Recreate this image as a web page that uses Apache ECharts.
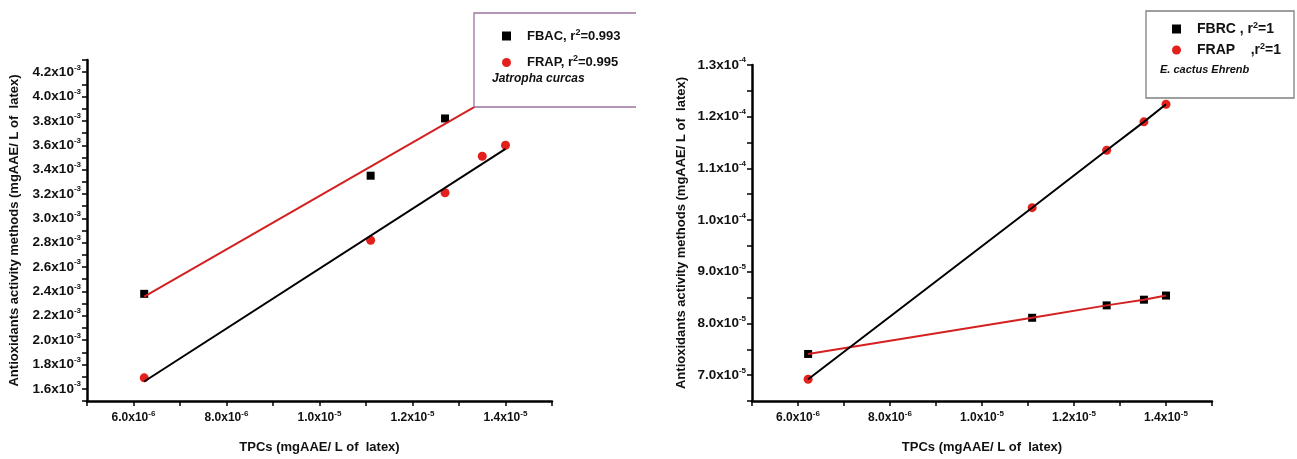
<!DOCTYPE html>
<html>
<head>
<meta charset="utf-8">
<script src="https://cdn.jsdelivr.net/npm/echarts@6/dist/echarts.min.js"></script>
<style>
    html, body { margin: 0; padding: 0; background: #fff; }
    #chart { width: 1297px; height: 459px; }
</style>
</head>
<body>
<div id="chart"></div>
<script>
    // left panel - Jatropha curcas
    const tpcJatropha = [6.23e-6, 1.11e-5, 1.27e-5, 1.35e-5, 1.40e-5];
    const fbacJatropha = [2.38e-3, 3.35e-3, 3.82e-3];
    const frapJatropha = [1.69e-3, 2.82e-3, 3.21e-3, 3.51e-3, 3.60e-3];
    const fitXJatropha = [6.23e-6, 1.40e-5];
    const fbacFitJatropha = [2.357e-3, 4.06e-3];
    const frapFitJatropha = [1.66e-3, 3.57e-3];

    // right panel - E. cactus Ehrenb
    const tpcCactus = [6.22e-6, 1.109e-5, 1.271e-5, 1.352e-5, 1.40e-5];
    const fbrcCactus = [7.41e-5, 8.11e-5, 8.35e-5, 8.46e-5, 8.54e-5];
    const frapCactus = [6.92e-5, 1.024e-4, 1.135e-4, 1.190e-4, 1.224e-4];

    const FONT = '"Liberation Sans", Arial, sans-serif';
    const RED = '#e3201c';
    const RED_LINE = '#d42020';

    const zip = (xs, ys) => ys.map((y, i) => [xs[i], y]);

    // labels like 6.0x10^-6, only every second tick is labelled
    function sciLabel(step) {
        return function (v) {
            if (Math.round(v / step) % 2) return '';
            let p = v.toExponential(1).split('e');
            return '{a|' + p[0] + 'x10}{s|' + p[1] + '}';
        };
    }

    function labelRich(size) {
        return {
            a: {fontFamily: FONT, fontSize: size, fontWeight: 'bold', color: '#111', lineHeight: size + 4},
            s: {fontFamily: FONT, fontSize: 8, fontWeight: 'bold', color: '#111', verticalAlign: 'top', lineHeight: 8}
        };
    }

    function xAxisOf(idx) {
        return {
            gridIndex: idx,
            type: 'value',
            min: 5e-6,
            max: 1.5e-5,
            interval: 1e-6,
            name: 'TPCs (mgAAE/ L of  latex)',
            nameLocation: 'middle',
            nameGap: 40,
            nameTextStyle: {fontFamily: FONT, fontSize: 13, fontWeight: 'bold', color: '#111'},
            axisLine: {show: true, onZero: false, lineStyle: {color: '#000', width: 2.5}},
            axisTick: {show: true, length: 5, lineStyle: {color: '#000', width: 1.5}},
            splitLine: {show: false},
            axisLabel: {margin: 9, formatter: sciLabel(1e-6), rich: labelRich(12)}
        };
    }

    function yAxisOf(idx, min, max, step, gap) {
        return {
            gridIndex: idx,
            type: 'value',
            min: min,
            max: max,
            interval: step,
            name: 'Antioxidants activity methods (mgAAE/ L of  latex)',
            nameLocation: 'middle',
            nameGap: gap,
            nameTextStyle: {fontFamily: FONT, fontSize: 13, fontWeight: 'bold', color: '#111'},
            axisLine: {show: true, onZero: false, lineStyle: {color: '#000', width: 2.5}},
            axisTick: {show: true, length: 5, lineStyle: {color: '#000', width: 1.5}},
            splitLine: {show: false},
            axisLabel: {margin: 6, formatter: sciLabel(step), rich: labelRich(13.5)}
        };
    }

    function legendRich(size) {
        return {
            f: {fontFamily: FONT, fontSize: size, fontWeight: 'bold', color: '#111', lineHeight: 16, padding: [0, 0, 0, 11]},
            a: {fontFamily: FONT, fontSize: size, fontWeight: 'bold', color: '#111', lineHeight: 16},
            s: {fontFamily: FONT, fontSize: 9, fontWeight: 'bold', color: '#111', verticalAlign: 'top', lineHeight: 10}
        };
    }

    let dom = document.getElementById('chart');
    let myChart = echarts.init(dom);

    let option = {
        animation: false,
        backgroundColor: '#fff',
        grid: [
            {left: 87, top: 60, width: 465, height: 343},
            {left: 752, top: 65, width: 460, height: 338}
        ],
        xAxis: [xAxisOf(0), xAxisOf(1)],
        yAxis: [
            yAxisOf(0, 1.5e-3, 4.3e-3, 1e-4, 66),
            yAxisOf(1, 6.5e-5, 1.3e-4, 5e-6, 64)
        ],
        legend: [
            {
                left: 497,
                top: 23,
                orient: 'vertical',
                itemGap: 12,
                itemWidth: 9,
                itemHeight: 9,
                z: 20,
                selectedMode: false,
                data: [{name: 'FBAC', icon: 'rect'}, {name: 'FRAP', icon: 'circle'}],
                formatter: function (name) {
                    return name === 'FBAC'
                        ? '{f|FBAC, r}{s|2}{a|=0.993}'
                        : '{f|FRAP, r}{s|2}{a|=0.995}';
                },
                textStyle: {rich: legendRich(13)}
            },
            {
                left: 1167,
                top: 16,
                orient: 'vertical',
                itemGap: 6,
                itemWidth: 9,
                itemHeight: 9,
                z: 20,
                selectedMode: false,
                data: [{name: 'FBRC', icon: 'rect'}, {name: 'FRAP', icon: 'circle'}],
                formatter: function (name) {
                    return name === 'FBRC'
                        ? '{f|FBRC , r}{s|2}{a|=1}'
                        : '{f|FRAP    ,r}{s|2}{a|=1}';
                },
                textStyle: {rich: legendRich(14)}
            }
        ],
        graphic: [
            {type: 'rect', z: 10, shape: {x: 474, y: 13, width: 162, height: 94}, style: {fill: '#fff'}},
            {type: 'polyline', z: 11, shape: {points: [[636, 13], [474, 13], [474, 107], [636, 107]]},
                style: {stroke: '#9d739d', lineWidth: 1.3, fill: null}},
            {type: 'text', z: 12, x: 492, y: 79,
                style: {text: 'Jatropha curcas', font: 'italic bold 12px ' + FONT, fill: '#111', verticalAlign: 'middle'}},
            {type: 'rect', z: 10, shape: {x: 1146, y: 11, width: 148, height: 87},
                style: {fill: '#fff', stroke: '#808080', lineWidth: 1.3}},
            {type: 'text', z: 12, x: 1160, y: 70,
                style: {text: 'E. cactus Ehrenb', font: 'italic bold 11px ' + FONT, fill: '#111', verticalAlign: 'middle'}}
        ],
        series: [
            {
                name: 'FBAC', type: 'scatter', xAxisIndex: 0, yAxisIndex: 0,
                symbol: 'rect', symbolSize: 8, itemStyle: {color: '#000', opacity: 1},
                data: zip(tpcJatropha, fbacJatropha)
            },
            {
                name: 'FRAP', type: 'scatter', xAxisIndex: 0, yAxisIndex: 0,
                symbol: 'circle', symbolSize: 9, itemStyle: {color: RED, opacity: 1},
                data: zip(tpcJatropha, frapJatropha)
            },
            {
                name: 'FBAC fit', type: 'line', xAxisIndex: 0, yAxisIndex: 0,
                showSymbol: false, silent: true, lineStyle: {color: RED_LINE, width: 2},
                data: zip(fitXJatropha, fbacFitJatropha)
            },
            {
                name: 'FRAP fit', type: 'line', xAxisIndex: 0, yAxisIndex: 0,
                showSymbol: false, silent: true, lineStyle: {color: '#000', width: 2},
                data: zip(fitXJatropha, frapFitJatropha)
            },
            {
                name: 'FBRC', type: 'scatter', xAxisIndex: 1, yAxisIndex: 1,
                symbol: 'rect', symbolSize: 8, itemStyle: {color: '#000', opacity: 1},
                data: zip(tpcCactus, fbrcCactus)
            },
            {
                name: 'FRAP', type: 'scatter', xAxisIndex: 1, yAxisIndex: 1,
                symbol: 'circle', symbolSize: 9, itemStyle: {color: RED, opacity: 1},
                data: zip(tpcCactus, frapCactus)
            },
            {
                name: 'FBRC fit', type: 'line', xAxisIndex: 1, yAxisIndex: 1,
                showSymbol: false, silent: true, lineStyle: {color: RED_LINE, width: 2},
                data: zip(tpcCactus, fbrcCactus)
            },
            {
                name: 'FRAP fit 2', type: 'line', xAxisIndex: 1, yAxisIndex: 1,
                showSymbol: false, silent: true, lineStyle: {color: '#000', width: 2},
                data: zip(tpcCactus, frapCactus)
            }
        ]
    };

    myChart.setOption(option, true);
</script>
</body>
</html>
